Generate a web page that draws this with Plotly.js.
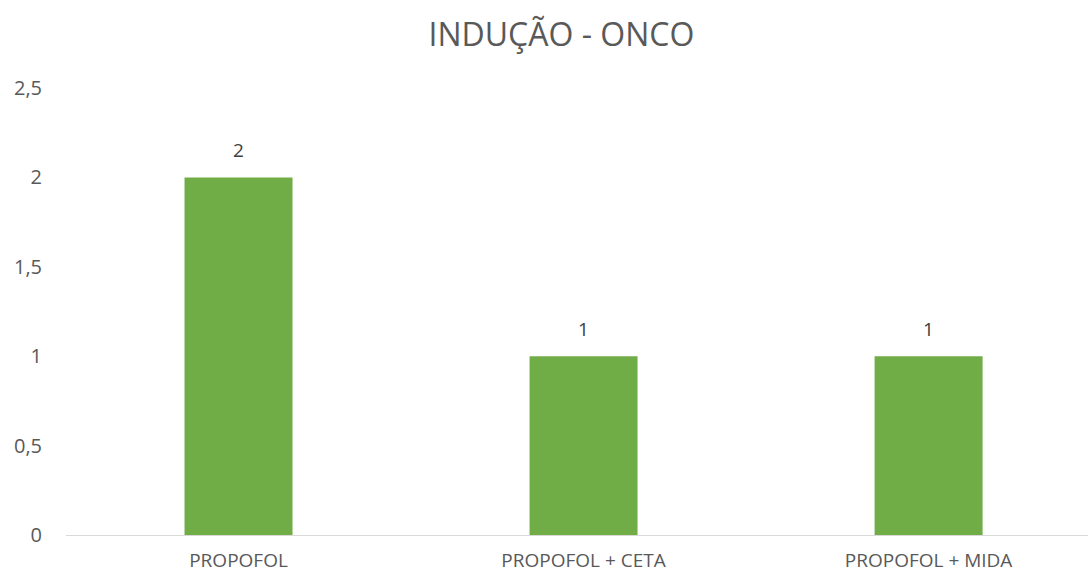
<!DOCTYPE html>
<html>
<head>
<meta charset="utf-8">
<script src="https://cdn.plot.ly/plotly-3.0.1.min.js"></script>
<style>
  html, body { margin: 0; padding: 0; overflow: hidden; background: #fff; }
  #myDiv { width: 1088px; height: 574px; }
</style>
</head>
<body>
<div id="myDiv"></div>
<script>
// ---------------- DATA ----------------
var categorias = ['PROPOFOL', 'PROPOFOL + CETA', 'PROPOFOL + MIDA'];
var valores = [2, 1, 1];
var yTicks = [0, 0.5, 1, 1.5, 2, 2.5];

// ---------------- CHART ----------------
var trace = {
    x: categorias,
    y: valores,
    type: 'bar',
    marker: { color: '#70ad47' },
    hoverinfo: 'x+y'
};

// data labels above the bars (Excel puts them a bit higher than plotly's 'outside')
var rotulos = categorias.map(function (c, i) {
    return {
        x: c,
        y: valores[i],
        xref: 'x',
        yref: 'y',
        text: String(valores[i]),
        showarrow: false,
        yanchor: 'bottom',
        yshift: 12,
        font: { family: 'Open Sans, sans-serif', size: 19, color: '#404040' }
    };
});

var layout = {
    width: 1088,
    height: 574,
    separators: ',.',
    title: {
        text: 'INDUÇÃO - ONCO',
        font: { family: 'Open Sans, sans-serif', size: 32, color: '#595959' },
        x: 0.516,
        xanchor: 'center',
        y: 0.94,
        yanchor: 'middle'
    },
    margin: { l: 66, r: 0, t: 88, b: 39 },
    bargap: 0.687,
    showlegend: false,
    plot_bgcolor: '#fff',
    paper_bgcolor: '#fff',
    annotations: rotulos,
    xaxis: {
        range: [-0.5, 2.462],
        showgrid: false,
        showline: true,
        linecolor: '#d9d9d9',
        linewidth: 1,
        ticks: '',
        ticklabelstandoff: 8,
        tickfont: { family: 'Open Sans, sans-serif', size: 19, color: '#595959' },
        fixedrange: true
    },
    yaxis: {
        range: [0, 2.5],
        tickvals: yTicks,
        ticktext: yTicks.map(function (v) { return String(v).replace('.', ','); }),
        showgrid: false,
        zeroline: false,
        showline: false,
        ticks: '',
        ticklabelstandoff: 23,
        tickfont: { family: 'Open Sans, sans-serif', size: 20, color: '#595959' },
        fixedrange: true
    }
};

Plotly.newPlot('myDiv', [trace], layout, { displayModeBar: false, staticPlot: true });
</script>
</body>
</html>
